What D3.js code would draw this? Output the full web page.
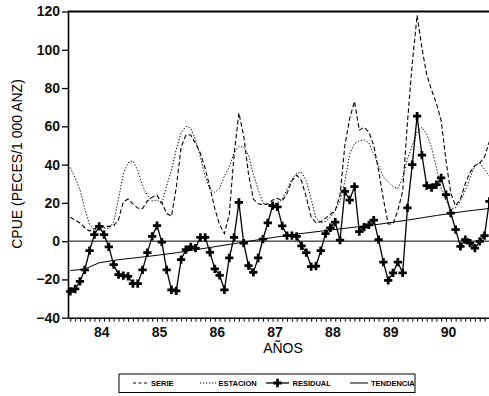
<!DOCTYPE html>
<html>
<head>
<meta charset="utf-8">
<script src="https://cdn.jsdelivr.net/npm/d3@7"></script>
<style>
  body { margin: 0; background: #fff; }
  svg { display: block; font-family: 'Liberation Sans', Arial, sans-serif; }
</style>
</head>
<body>
<div id="chart"></div>
<script>
// Data (monthly, Jul 1983 - Oct 1990)
const startYear = 83.5;
const yearTicks = [84, 85, 86, 87, 88, 89, 90];
const yTicks = [-40, -20, 0, 20, 40, 60, 80, 100, 120];

const serie = [12.5,11,9.5,7,5.3,6.5,7.7,7.7,7.7,8,
  11.2,20.5,22,19.5,17.3,17,21,23,24,20,
  14.5,13,28,49,55.5,55.5,51,46,38,28,
  17,8.5,4,14,45,67,55,35,22,19.5,
  19.1,19.5,21.5,22.4,21,25,31.5,34.5,31.5,23,
  12.5,9.6,10.2,12,14,16,24,50,64,73,
  58,59.5,57,50,37,22,9,9,16,26,
  62,93,118,101,87,79,72,63,42,25,
  18.5,22,30,36,39.5,40.8,44,52];

const estacion = [38.5,33,27,17,8.5,6,7,7,6.5,10,
  22,35,41,42,37,29,24,21,21.5,19.5,
  29,37,48,56.6,60,59,53,44,34,27,
  25.5,27.5,34,39,46,49.5,49,45,35,27,
  20,19,19,20,22,27,32.5,35.5,36,31.5,
  22,12,9.7,10.3,12.5,16,21,31,45.5,51,
  52.5,53,51.3,45.5,39.5,33.5,31,28.5,27.5,33,
  43,50,57,59.5,56,49,38.5,27.5,21,17,
  17.5,21,26.5,33,39.5,41,37.5,34];

const residual = [-26.2,-25,-21,-15,-5,3.4,7.7,3.4,-3,-12.3,
  -17.5,-18,-18.4,-22.2,-22.2,-15,-6,2.5,8.1,-0.5,
  -15,-25.4,-26,-9.7,-4.4,-3,-3.6,2,2,-5.9,
  -14.5,-17.9,-25.4,-8.8,2,20.3,-1,-12.8,-16.3,-8.8,
  1.1,9.5,18.6,17.9,8,2.9,2.9,2.5,-2.5,-6,
  -13.3,-13,-5,3.9,7,10,0.5,26,21.5,28.5,
  5,7.3,8.5,11,0.8,-11,-20.5,-16.6,-11,-16.6,
  17.4,40,65.3,45,29,28,29.5,33,24.3,14.7,
  6,-2.7,0.8,-1,-3.6,-0.1,2.9,20.8];

const trendMonths = [0,3,6,10,16,22,28,34,40,46,52,58,64,70,76,82,87];
const trendValues = [-15.4,-14.6,-11.3,-9.7,-8,-6.1,-3.7,-1.3,1.1,3.4,5.2,7,8.8,11,13.4,15.6,17.1];

const legendLabels = ['SERIE', 'ESTACION', 'RESIDUAL', 'TENDENCIA'];

const width = 489, height = 396;
const plot = { left: 68, top: 11.5, bottom: 317.7, right: 489 };

const svg = d3.select('#chart').append('svg')
    .attr('width', width)
    .attr('height', height);

// Scales
const x = d3.scaleLinear().domain([83.46, 90.744]).range([plot.left, plot.right]);
const y = d3.scaleLinear().domain([-40, 120]).range([plot.bottom, plot.top]);
const monthX = i => x(startYear + i / 12);

// Axes
const yAxis = svg.append('g')
    .attr('transform', `translate(${plot.left},0)`)
    .call(d3.axisLeft(y).tickValues(yTicks).tickSize(6).tickPadding(2).tickSizeOuter(0));
yAxis.select('.domain').attr('stroke-width', 1.6);
yAxis.selectAll('line').attr('stroke-width', 1.3);
yAxis.selectAll('text').attr('font-size', 14).attr('font-weight', 'bold')
    .attr('font-family', "'Liberation Sans', Arial, sans-serif").attr('fill', '#111');

const months = d3.range(serie.length + 1).map(i => startYear + i / 12);
const xAxis = svg.append('g')
    .attr('transform', `translate(0,${plot.bottom})`)
    .call(d3.axisBottom(x).tickValues(months).tickSize(4).tickFormat('').tickSizeOuter(0));
xAxis.select('.domain').attr('stroke-width', 1.6);
xAxis.selectAll('line').attr('stroke-width', 1);

const xLabels = svg.append('g')
    .attr('transform', `translate(2,${plot.bottom})`)
    .call(d3.axisBottom(x).tickValues(yearTicks).tickSize(0).tickPadding(9).tickFormat(d => d));
xLabels.select('.domain').remove();
xLabels.selectAll('text').attr('font-size', 14).attr('font-weight', 'bold')
    .attr('font-family', "'Liberation Sans', Arial, sans-serif").attr('fill', '#111');

// top frame line
svg.append('line')
    .attr('x1', plot.left).attr('x2', plot.right)
    .attr('y1', y(120)).attr('y2', y(120))
    .attr('stroke', '#000').attr('stroke-width', 1.8);

// zero line
svg.append('line')
    .attr('x1', plot.left).attr('x2', plot.right)
    .attr('y1', y(0)).attr('y2', y(0))
    .attr('stroke', '#000').attr('stroke-width', 1);

// Titles
svg.append('text')
    .attr('transform', 'translate(22,164) rotate(-90)')
    .attr('text-anchor', 'middle')
    .attr('font-size', 14)
    .text('CPUE (PECES/1 000 ANZ)');

svg.append('text')
    .attr('x', 283).attr('y', 353)
    .attr('text-anchor', 'middle')
    .attr('font-size', 14)
    .text('AÑOS');

// Lines
const line = d3.line().x((d, i) => monthX(i)).y(d => y(d));

svg.append('path').datum(estacion)
    .attr('d', line).attr('fill', 'none')
    .attr('stroke', '#000').attr('stroke-width', 1)
    .attr('stroke-dasharray', '1.3,1.8');

svg.append('path').datum(serie)
    .attr('d', line).attr('fill', 'none')
    .attr('stroke', '#000').attr('stroke-width', 1.1)
    .attr('stroke-dasharray', '4.5,2.5');

svg.append('path').datum(trendValues)
    .attr('d', d3.line().x((d, i) => monthX(trendMonths[i])).y(d => y(d)))
    .attr('fill', 'none').attr('stroke', '#000').attr('stroke-width', 1);

svg.append('path').datum(residual)
    .attr('d', line).attr('fill', 'none')
    .attr('stroke', '#000').attr('stroke-width', 1.3);

const marker = d3.symbol().type(d3.symbolCross).size(38);
svg.append('g').selectAll('path')
    .data(residual)
    .join('path')
      .attr('d', marker)
      .attr('transform', (d, i) => `translate(${monthX(i)},${y(d)})`)
      .attr('fill', '#000');

// Legend
const legend = svg.append('g');
legend.append('rect')
    .attr('x', 119).attr('y', 374).attr('width', 296).attr('height', 18.5)
    .attr('fill', 'none').attr('stroke', '#000').attr('stroke-width', 1);

const samples = [
  { x1: 133, x2: 148, dash: '3,2.5', tx: 151 },
  { x1: 200, x2: 216, dash: '1.2,1.8', tx: 218.5 },
  { x1: 266, x2: 289, dash: null, tx: 292.5, marker: true },
  { x1: 350, x2: 368, dash: null, tx: 371 }
];
samples.forEach((s, k) => {
  legend.append('line')
      .attr('x1', s.x1).attr('x2', s.x2).attr('y1', 383).attr('y2', 383)
      .attr('stroke', '#000').attr('stroke-width', s.marker ? 1.3 : 1)
      .attr('stroke-dasharray', s.dash);
  if (s.marker) {
    legend.append('path').attr('d', marker)
        .attr('transform', `translate(${(s.x1 + s.x2) / 2},383)`);
  }
  legend.append('text')
      .attr('x', s.tx).attr('y', 385.8)
      .attr('font-size', 7.5).attr('font-weight', 'bold')
      .text(legendLabels[k]);
});
</script>
</body>
</html>
